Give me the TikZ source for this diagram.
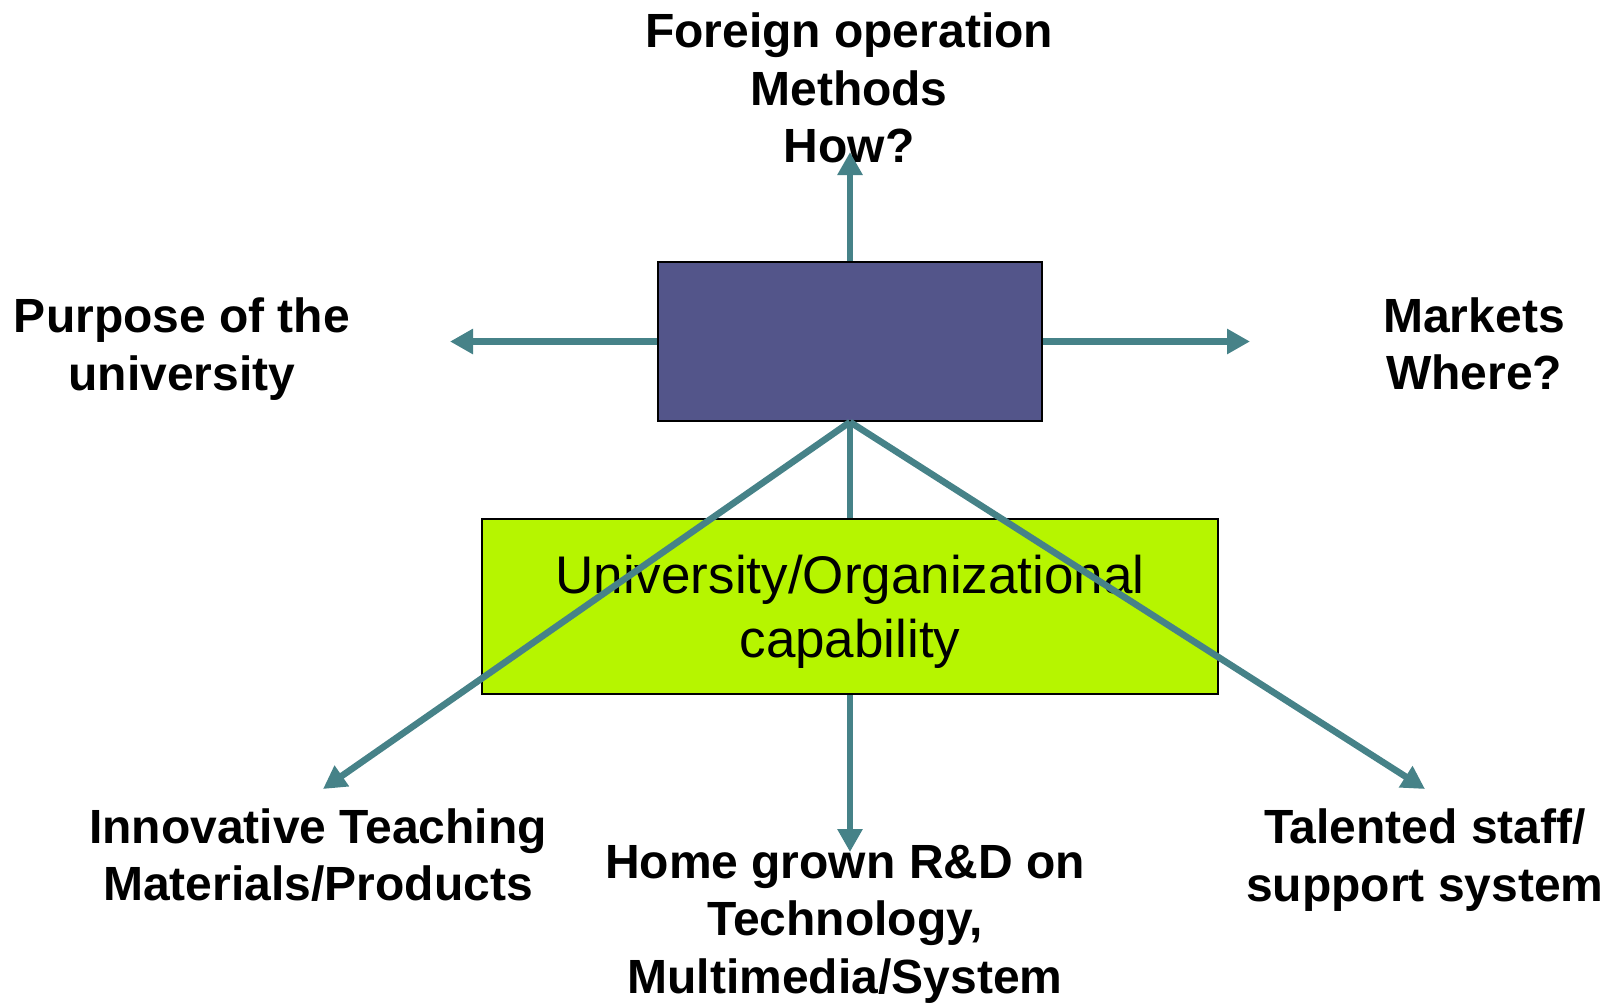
\documentclass[tikz,border=0pt]{standalone}
\usepackage{fontspec}
\setmainfont{Liberation Sans}
\usepackage{tikz}
\usetikzlibrary{arrows.meta}

\definecolor{arrowteal}{RGB}{70,130,136}
\definecolor{boxpurple}{RGB}{83,85,138}
\definecolor{boxlime}{RGB}{182,245,0}

\tikzset{
  lbl/.style={anchor=center, align=center, inner sep=0pt, font=\bfseries\fontsize{24}{28.75}\selectfont},
  link/.style={draw=arrowteal, line width=3.3pt},
  linkarrow/.style={link, -{Triangle[length=11.5pt,width=12pt]}}
}

\begin{document}
\begin{tikzpicture}[x=0.5pt,y=-0.5pt]
\useasboundingbox (0,0) rectangle (1610,1002);

\node[anchor=center, draw=black, line width=1pt, fill=boxpurple, minimum width=192pt, minimum height=79.5pt, inner sep=0pt] (capbox) at (850,341.5) {};
\node[anchor=center, draw=black, line width=1pt, fill=boxlime, minimum width=368pt, minimum height=87.5pt, inner sep=0pt, align=center, font=\fontsize{26.5}{32}\selectfont, text depth=0pt] (orgcap) at (850,606.5) {University/Organizational\\capability};

\node[lbl] (how) at (849,88) {Foreign operation\\Methods\\How?};
\node[lbl] (purpose) at (182,349) {Purpose of the\\university};
\node[lbl] (markets) at (1474,344) {Markets\\Where?};
\node[lbl] (teaching) at (318,855) {Innovative Teaching\\Materials/Products};
\node[lbl] (homegrown) at (845,924) {Home grown R\&D on\\Technology,\\Multimedia/System};
\node[lbl] (talented) at (1425,860) {Talented staff/\\support system};

\coordinate (howtip) at (850,152);
\coordinate (purposetip) at (450,341.5);
\coordinate (marketstip) at (1250,341.5);
\coordinate (teachingtip) at (323,789);
\coordinate (homegrowntip) at (850,852);
\coordinate (talentedtip) at (1425,789);

\draw[linkarrow] (capbox.north) -- (howtip);
\draw[linkarrow] (capbox.west) -- (purposetip);
\draw[linkarrow] (capbox.east) -- (marketstip);
\draw[link] (capbox.south) -- (orgcap.north);
\draw[linkarrow] (orgcap.south) -- (homegrowntip);
\draw[linkarrow] (capbox.south) -- (teachingtip);
\draw[linkarrow] (capbox.south) -- (talentedtip);
\end{tikzpicture}
\end{document}
